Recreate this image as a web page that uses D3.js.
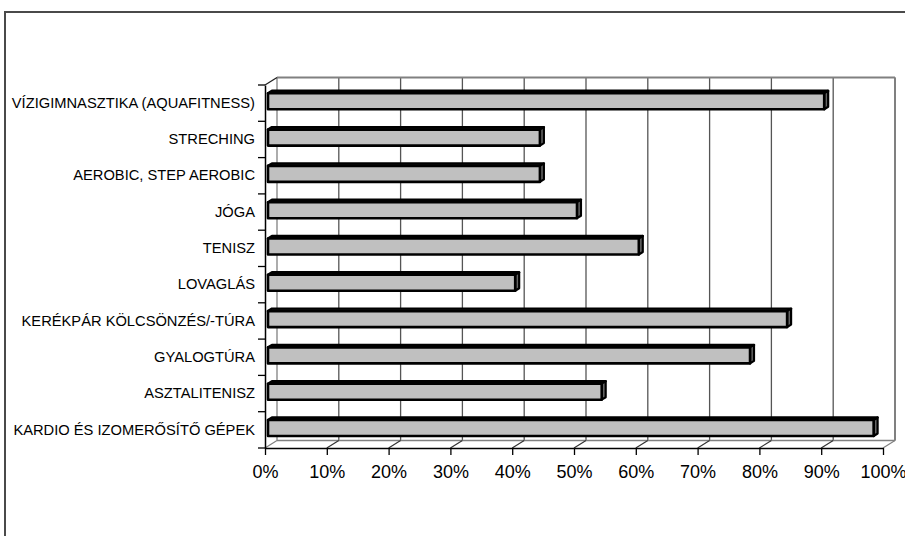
<!DOCTYPE html>
<html>
<head>
<meta charset="utf-8">
<script src="https://cdn.jsdelivr.net/npm/d3@7"></script>
<style>
  html, body { margin: 0; padding: 0; background: #fff; }
  svg { display: block; font-family: "Liberation Sans", Arial, sans-serif; }
</style>
</head>
<body>
<svg id="chart" width="905" height="536"></svg>
<script>
// Activities, listed top to bottom as they appear on the category axis
const categories = [
  "VÍZIGIMNASZTIKA (AQUAFITNESS)",
  "STRECHING",
  "AEROBIC, STEP AEROBIC",
  "JÓGA",
  "TENISZ",
  "LOVAGLÁS",
  "KERÉKPÁR KÖLCSÖNZÉS/-TÚRA",
  "GYALOGTÚRA",
  "ASZTALITENISZ",
  "KARDIO ÉS IZOMERŐSÍTŐ GÉPEK"
];
// Share of respondents per activity
const values = [0.90, 0.44, 0.44, 0.50, 0.60, 0.40, 0.84, 0.78, 0.54, 0.98];
// Value axis ticks and their labels
const tickValues = [0, 0.1, 0.2, 0.3, 0.4, 0.5, 0.6, 0.7, 0.8, 0.9, 1.0];
const tickLabels = ["0%", "10%", "20%", "30%", "40%", "50%", "60%", "70%", "80%", "90%", "100%"];

const svg = d3.select("#chart");

// Front plane of the 3D plot; depth is an oblique offset
const DX = 12, DY = -7.5;
const x = d3.scaleLinear().domain([0, 1]).range([265, 883]);
const y = d3.scaleBand().domain(categories).range([85, 448]);
const yTop = y.range()[0], yBot = y.range()[1];
const P = (v, yy, z) => [x(v) + z * DX, yy + z * DY];

// Outer chart frame
svg.append("rect")
  .attr("x", 5).attr("y", 12).attr("width", 920).attr("height", 540)
  .attr("fill", "none").attr("stroke", "#4a4a4a").attr("stroke-width", 2);

const plot = svg.append("g");
const grey = "#808080";

// Back wall gridlines
plot.selectAll("line.grid").data(tickValues).join("line")
  .attr("class", "grid")
  .attr("x1", d => P(d, yTop, 1)[0]).attr("y1", P(0, yTop, 1)[1])
  .attr("x2", d => P(d, yBot, 1)[0]).attr("y2", P(0, yBot, 1)[1])
  .attr("stroke", (d, i) => (i === 0 || i === tickValues.length - 1) ? grey : "#555")
  .attr("stroke-width", 1.3);

// Back wall top edge, floor back edge and right edge
plot.append("line")
  .attr("x1", P(0, yTop, 1)[0]).attr("y1", P(0, yTop, 1)[1])
  .attr("x2", P(1, yTop, 1)[0]).attr("y2", P(1, yTop, 1)[1])
  .attr("stroke", grey).attr("stroke-width", 2);
plot.append("line")
  .attr("x1", P(0, yBot, 1)[0]).attr("y1", P(0, yBot, 1)[1])
  .attr("x2", P(1, yBot, 1)[0]).attr("y2", P(1, yBot, 1)[1])
  .attr("stroke", grey).attr("stroke-width", 1.5);
plot.append("line")
  .attr("x1", P(1, yTop, 1)[0]).attr("y1", P(1, yTop, 1)[1])
  .attr("x2", P(1, yBot, 1)[0]).attr("y2", P(1, yBot, 1)[1])
  .attr("stroke", grey).attr("stroke-width", 2);

// Floor depth lines at each tick
plot.selectAll("line.floor").data(tickValues).join("line")
  .attr("class", "floor")
  .attr("x1", d => P(d, yBot, 0)[0]).attr("y1", P(0, yBot, 0)[1])
  .attr("x2", d => P(d, yBot, 1)[0]).attr("y2", P(0, yBot, 1)[1])
  .attr("stroke", (d, i) => (i === 0 || i === tickValues.length - 1) ? grey : "#333")
  .attr("stroke-width", 1.2);

// Top-left depth edge of the category axis
plot.append("line")
  .attr("x1", P(0, yTop, 0)[0]).attr("y1", P(0, yTop, 0)[1])
  .attr("x2", P(0, yTop, 1)[0]).attr("y2", P(0, yTop, 1)[1])
  .attr("stroke", "#222").attr("stroke-width", 1.3);

// 3D bars
const zF = 0.25, zB = 0.58, half = 8;
const bars = plot.selectAll("g.bar").data(categories.map((c, i) => ({ c, v: values[i] })))
  .join("g").attr("class", "bar");

const pts = a => a.map(p => p.join(",")).join(" ");
bars.each(function (d) {
  const g = d3.select(this);
  const yc = y(d.c) + y.bandwidth() / 2;
  const t = yc - half, b = yc + half;
  // top face
  g.append("polygon")
    .attr("points", pts([P(0, t, zF), P(d.v, t, zF), P(d.v, t, zB), P(0, t, zB)]))
    .attr("fill", "#333").attr("stroke", "#000").attr("stroke-width", 2.4)
    .attr("stroke-linejoin", "round");
  // end face
  g.append("polygon")
    .attr("points", pts([P(d.v, t, zF), P(d.v, t, zB), P(d.v, b, zB), P(d.v, b, zF)]))
    .attr("fill", "#666").attr("stroke", "#000").attr("stroke-width", 2.2)
    .attr("stroke-linejoin", "round");
  // front face
  g.append("polygon")
    .attr("points", pts([P(0, t, zF), P(d.v, t, zF), P(d.v, b, zF), P(0, b, zF)]))
    .attr("fill", "#c0c0c0").attr("stroke", "#000").attr("stroke-width", 2.6)
    .attr("stroke-linejoin", "round");
});

// Value axis along the front edge of the floor
const xAxis = d3.axisBottom(x)
  .tickValues(tickValues)
  .tickFormat((d, i) => tickLabels[i])
  .tickSize(7).tickSizeOuter(0).tickPadding(10);
const gx = svg.append("g").attr("transform", `translate(0,${yBot})`).call(xAxis);
gx.select(".domain").attr("stroke", "#000").attr("stroke-width", 1.5);
gx.selectAll(".tick line").attr("stroke", "#000").attr("stroke-width", 1.3);
gx.selectAll(".tick text").attr("font-size", 18).attr("fill", "#000")
  .attr("font-family", "Liberation Sans, Arial, sans-serif");

// Category axis
const yAxis = d3.axisLeft(y).tickSize(0).tickPadding(10);
const gy = svg.append("g").attr("transform", `translate(${x(0)},0)`).call(yAxis);
gy.select(".domain").attr("stroke", "#000").attr("stroke-width", 1.5);
gy.selectAll(".tick text").attr("font-size", 14.7).attr("fill", "#000")
  .attr("font-family", "Liberation Sans, Arial, sans-serif");

// Category boundary tick marks
const bounds = categories.map(c => y(c)).concat([yBot]);
gy.selectAll("line.bound").data(bounds).join("line")
  .attr("class", "bound")
  .attr("x1", -7).attr("x2", 0)
  .attr("y1", d => d).attr("y2", d => d)
  .attr("stroke", "#000").attr("stroke-width", 1.3);
</script>
</body>
</html>
